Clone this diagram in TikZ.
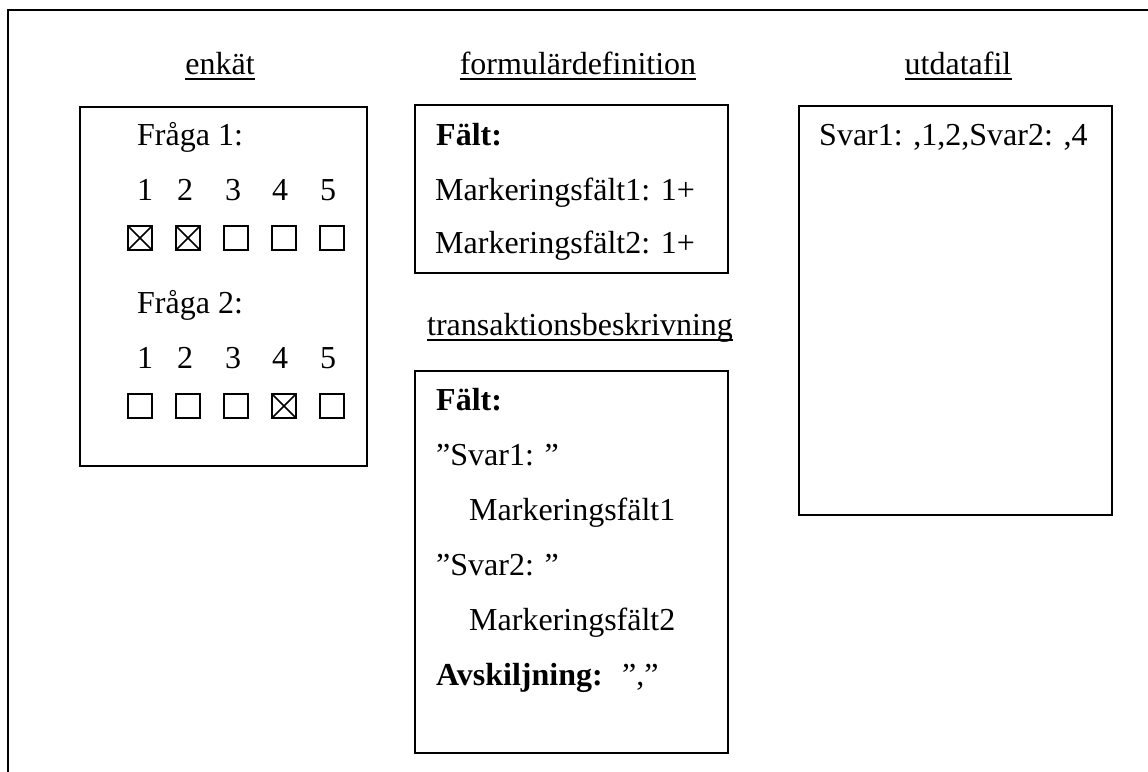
\documentclass[tikz,border=0pt]{standalone}
\usepackage{fontspec}
\setmainfont{Liberation Serif}
\tikzset{
  box/.style={line width=2pt},
  uline/.style={line width=2pt},
  txt/.style={anchor=base west,inner sep=0pt,font=\fontsize{32}{38}\selectfont},
  title/.style={anchor=base,inner sep=0pt,font=\fontsize{32}{38}\selectfont},
  chk/.style={draw,rectangle,line width=2pt,minimum size=24pt,inner sep=0pt,outer sep=0pt},
  cross/.style={line width=1.6pt},
}
\begin{document}
\begin{tikzpicture}[x=1pt,y=-1pt]
  \useasboundingbox (0,0) rectangle (1148,771);
  % outer frame, open to the right and below
  \draw[box] (7.5,800) -- (7.5,10) -- (1160,10);
  % the four boxes
  \draw[box] (80,107) rectangle (367,466);
  \draw[box] (415,105) rectangle (728,273);
  \draw[box] (415,371) rectangle (728,753);
  \draw[box] (799,106) rectangle (1112,515);

  % titles
  \node[title] (enkat) at (220,74) {enkät};
  \node[title] (formular) at (578,74) {formulärdefinition};
  \node[title] (utdata) at (958,74) {utdatafil};
  \node[title] (trans) at (580,335) {transaktionsbeskrivning};
  \foreach \n in {enkat,formular,utdata,trans} {
    \draw[uline] ([yshift=-5pt]\n.base west) -- ([yshift=-5pt]\n.base east);
  }

  % enkät
  \node[txt] (fraga1) at (137,145) {Fråga 1:};
  \node[txt] (fraga2) at (137,313) {Fråga 2:};
  \foreach[count=\i] \x in {145,185,233,280,328} {
    \node[title] (qanum\i) at (\x,200) {\i};
    \node[title] (qbnum\i) at (\x,368) {\i};
  }
  \foreach[count=\i,evaluate={92+48*\i} as \x] \c in {1,1,0,0,0} {
    \node[chk] (qabox\i) at (\x,238) {};
    \ifnum\c=1
      \draw[cross] (qabox\i.north west) -- (qabox\i.south east)
                   (qabox\i.north east) -- (qabox\i.south west);
    \fi
  }
  \foreach[count=\i,evaluate={92+48*\i} as \x] \c in {0,0,0,1,0} {
    \node[chk] (qbbox\i) at (\x,406) {};
    \ifnum\c=1
      \draw[cross] (qbbox\i.north west) -- (qbbox\i.south east)
                   (qbbox\i.north east) -- (qbbox\i.south west);
    \fi
  }

  % formulärdefinition
  \node[txt,font=\fontsize{32}{38}\selectfont\bfseries] (ffalt) at (436,145) {Fält:};
  \node[txt] (fmark1) at (435,200) {Markeringsfält1: 1+};
  \node[txt] (fmark2) at (435,253) {Markeringsfält2: 1+};

  % transaktionsbeskrivning
  \node[txt,font=\fontsize{32}{38}\selectfont\bfseries] (tfalt) at (436,410) {Fält:};
  \node[txt] (tsvar1) at (436,465) {”Svar1: ”};
  \node[txt] (tmark1) at (469,520) {Markeringsfält1};
  \node[txt] (tsvar2) at (436,575) {”Svar2: ”};
  \node[txt] (tmark2) at (469,630) {Markeringsfält2};
  \node[txt,font=\fontsize{32}{38}\selectfont\bfseries] (tavsk) at (436,685) {Avskiljning:};
  \node[txt] (tsep) at (622,685) {”,”};

  % utdatafil
  \node[txt] (urad) at (819,145) {Svar1: ,1,2,Svar2: ,4};
\end{tikzpicture}
\end{document}
